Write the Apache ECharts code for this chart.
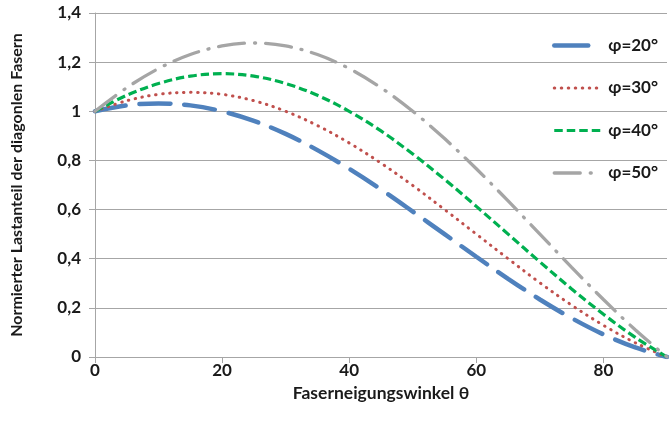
<!DOCTYPE html>
<html>
<head>
<meta charset="utf-8">
<script src="https://cdn.jsdelivr.net/npm/echarts@6/dist/echarts.min.js"></script>
<style>
html,body{margin:0;padding:0;background:#fff;}
#chart{width:669px;height:426px;}
</style>
</head>
<body>
<div id="chart"></div>
<script>
const theta = [0,5,10,15,20,25,30,35,40,45,50,55,60,65,70,75,80,85,90];
const phi20 = [1,1.024,1.032,1.024,1.000,0.961,0.908,0.842,0.766,0.682,0.592,0.500,0.408,0.318,0.234,0.158,0.092,0.039,0];
const phi30 = [1,1.043,1.069,1.077,1.069,1.043,1.000,0.942,0.871,0.789,0.698,0.600,0.500,0.400,0.302,0.211,0.129,0.058,0];
const phi40 = [1,1.065,1.113,1.143,1.153,1.143,1.113,1.065,1.000,0.920,0.826,0.723,0.613,0.500,0.387,0.277,0.174,0.080,0];
const phi50 = [1,1.096,1.174,1.231,1.266,1.278,1.266,1.231,1.174,1.096,1.000,0.889,0.766,0.635,0.500,0.365,0.234,0.111,0];
const seriesNames = ['φ=20°','φ=30°','φ=40°','φ=50°'];
const xTitle = 'Faserneigungswinkel θ';
const yTitle = 'Normierter Lastanteil der diagonlen Fasern';

const FONT = 'Lato, "Open Sans", sans-serif';
const pairs = arr => theta.map((t,i)=>[t,arr[i]]);
const styles = [
  {color:'#4F81BD', width:4.5, type:[31,14], legendType:[34,20], cap:'round'},
  {color:'#C0504D', width:3, type:[0.5,6.5], legendType:[0.5,6.5], cap:'round'},
  {color:'#00B050', width:3.2, type:[8.5,4], legendType:[8.5,4], cap:'butt'},
  {color:'#A5A5A5', width:3.3, type:[26,10,1,10], legendType:[26,10,1,10], cap:'round'}
];
const dataSets = [phi20,phi30,phi40,phi50];

const chart = echarts.init(document.getElementById('chart'), null, {renderer:'canvas'});
chart.setOption({
  animation:false,
  backgroundColor:'#fff',
  grid:{left:95,right:2,top:13,bottom:69},
  legend:{
    orient:'vertical', left:547, top:32,
    itemWidth:46, itemHeight:14, itemGap:25.5,
    itemStyle:{opacity:0},
    textStyle:{fontFamily:FONT, fontWeight:'bold', fontSize:17, color:'#1a1a1a', padding:[0,0,0,3]},
    data:seriesNames.map((n,i)=>({name:n, itemStyle:{opacity:0},
      lineStyle:{color:styles[i].color, width:styles[i].width, type:styles[i].legendType, cap:styles[i].cap}}))
  },
  xAxis:{
    type:'value', min:0, max:90, interval:20,
    name:xTitle, nameLocation:'middle', nameGap:19,
    nameTextStyle:{fontFamily:FONT, fontWeight:'bold', fontSize:17.5, color:'#1a1a1a'},
    axisLine:{show:true, lineStyle:{color:'#A6A6A6', width:1}},
    axisTick:{show:true, length:6, lineStyle:{color:'#A6A6A6'}},
    axisLabel:{fontFamily:FONT, fontWeight:'bold', fontSize:17, color:'#1a1a1a', margin:5, showMaxLabel:false},
    splitLine:{show:false}
  },
  yAxis:{
    type:'value', min:0, max:1.4, interval:0.2,
    name:yTitle, nameLocation:'middle', nameGap:70, nameRotate:90,
    nameTextStyle:{fontFamily:FONT, fontWeight:'bold', fontSize:16, color:'#1a1a1a'},
    axisLine:{show:true, lineStyle:{color:'#A6A6A6', width:1}},
    axisTick:{show:true, length:6, lineStyle:{color:'#A6A6A6'}},
    axisLabel:{fontFamily:FONT, fontWeight:'bold', fontSize:17, color:'#1a1a1a', margin:14,
      formatter:v=>String(+v.toFixed(1)).replace('.',',')},
    splitLine:{show:true, lineStyle:{color:'#A6A6A6', width:1}}
  },
  series:dataSets.map((d,i)=>({
    name:seriesNames[i], type:'line', data:pairs(d), smooth:0.35, symbol:'none',
    itemStyle:{color:styles[i].color},
    lineStyle:{color:styles[i].color, width:styles[i].width, type:styles[i].type, cap:styles[i].cap}
  }))
});
</script>
</body>
</html>
